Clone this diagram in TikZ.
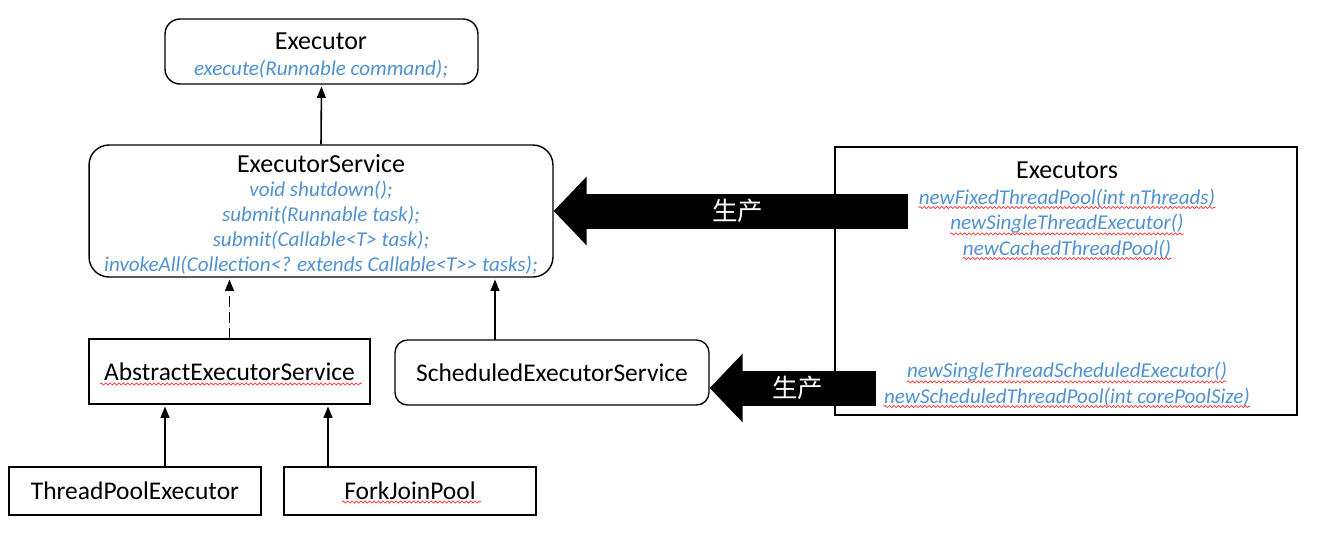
\documentclass[tikz,border=0pt]{standalone}
\usepackage{fontspec}
\setmainfont{Carlito}
\newfontfamily\cjk{Noto Sans CJK SC}
\usetikzlibrary{arrows.meta, decorations.pathmorphing}
\definecolor{methblue}{RGB}{80,145,210}

\tikzset{
  cls/.style={draw, line width=0.8pt, inner sep=0pt, font=\fontsize{14.5}{17}\selectfont},
  rcls/.style={cls, rounded corners=0.3cm},
  ttl/.style={font=\fontsize{14.8}{17}\selectfont, inner sep=0pt},
  meth/.style={font=\fontsize{12}{14}\selectfont\itshape, text=methblue, inner sep=0pt},
  ext/.style={-{Triangle[length=6.5pt,width=5pt]}, line width=0.9pt, shorten >=1pt},
  prod/.style={line width=0.7cm, -{Triangle[length=0.66cm,width=1.34cm]}},
  squig/.style={red!80, line width=0.4pt, decorate, decoration={snake, amplitude=0.6pt, segment length=2.5pt}},
  cn/.style={text=white, font=\cjk\fontsize{14.5}{17}\selectfont}
}

\begin{document}
\begin{tikzpicture}[x=0.02cm, y=-0.02cm]
    \useasboundingbox (0,0) rectangle (1317,532);

    % Executor interface
    \node[rcls, minimum width=6.26cm, minimum height=1.3cm] (exec) at (321.5,51.5) {};
    \node[ttl] (execT) at (321,41) {Executor};
    \node[meth] (execM) at (321,69) {execute(Runnable command);};

    % ExecutorService interface
    \node[rcls, rounded corners=0.4cm, minimum width=9.28cm, minimum height=2.64cm] (es) at (321,211) {};
    \node[ttl] (esT) at (321,164) {ExecutorService};
    \node[meth] (esM1) at (321,190) {void shutdown();};
    \node[meth] (esM2) at (321,215) {submit(Runnable task);};
    \node[meth] (esM3) at (321,240) {submit(Callable<T> task);};
    \node[meth] (esM4) at (321,265) {invokeAll(Collection<? extends Callable<T>{}> tasks);};

    % Implementations
    \node[cls, minimum width=5.62cm, minimum height=1.3cm] (aes) at (229.5,371.5) {AbstractExecutorService};
    \node[rcls, rounded corners=0.25cm, minimum width=6.28cm, minimum height=1.3cm] (ses) at (552,372.5) {ScheduledExecutorService};
    \node[cls, minimum width=5.04cm, minimum height=0.96cm] (tpe) at (135,491) {ThreadPoolExecutor};
    \node[cls, minimum width=5.04cm, minimum height=0.96cm] (fjp) at (410,491) {ForkJoinPool};
    \draw[squig] (100,384) -- (362,384);
    \draw[squig] (342,502) -- (481,502);

    % Executors factory
    \node[draw, line width=0.8pt, minimum width=9.24cm, minimum height=5.36cm] (exs) at (1066,281) {};
    \node[ttl] (exsT) at (1067,170) {Executors};
    \node[meth] (fx1) at (1067,198) {newFixedThreadPool(int nThreads)};
    \node[meth] (fx2) at (1067,224) {newSingleThreadExecutor()};
    \node[meth] (fx3) at (1067,249) {newCachedThreadPool()};
    \node[meth] (fx4) at (1067,372) {newSingleThreadScheduledExecutor()};
    \node[meth] (fx5) at (1067,397) {newScheduledThreadPool(int corePoolSize)};
    \draw[squig] (fx1.south west) -- (fx1.south east);
    \draw[squig] (fx2.south west) -- (fx2.south east);
    \draw[squig] (fx3.south west) -- (fx3.south east);
    \draw[squig] (fx4.south west) -- (fx4.south east);
    \draw[squig] (fx5.south west) -- (fx5.south east);

    % Inheritance arrows
    \draw[ext] (es.north) -- (exec.south);
    \draw[ext, dash pattern=on 6pt off 3pt] (aes.north) -- (aes.north |- es.south);
    \coordinate (sesUp) at (495,340);
    \draw[ext] (sesUp) -- (sesUp |- es.south);
    \coordinate (tpeUp) at (165,467);
    \draw[ext] (tpeUp) -- (tpeUp |- aes.south);
    \coordinate (fjpUp) at (328,467);
    \draw[ext] (fjpUp) -- (fjpUp |- aes.south);

    % Production arrows
    \coordinate (prodA) at (908,211);
    \draw[prod] (prodA) -- (prodA -| es.east) node[cn, pos=0.48] (prodAT) {生产};
    \coordinate (prodB) at (876,388);
    \draw[prod] (prodB) -- (prodB -| ses.east) node[cn, pos=0.47] (prodBT) {生产};

\end{tikzpicture}
\end{document}
